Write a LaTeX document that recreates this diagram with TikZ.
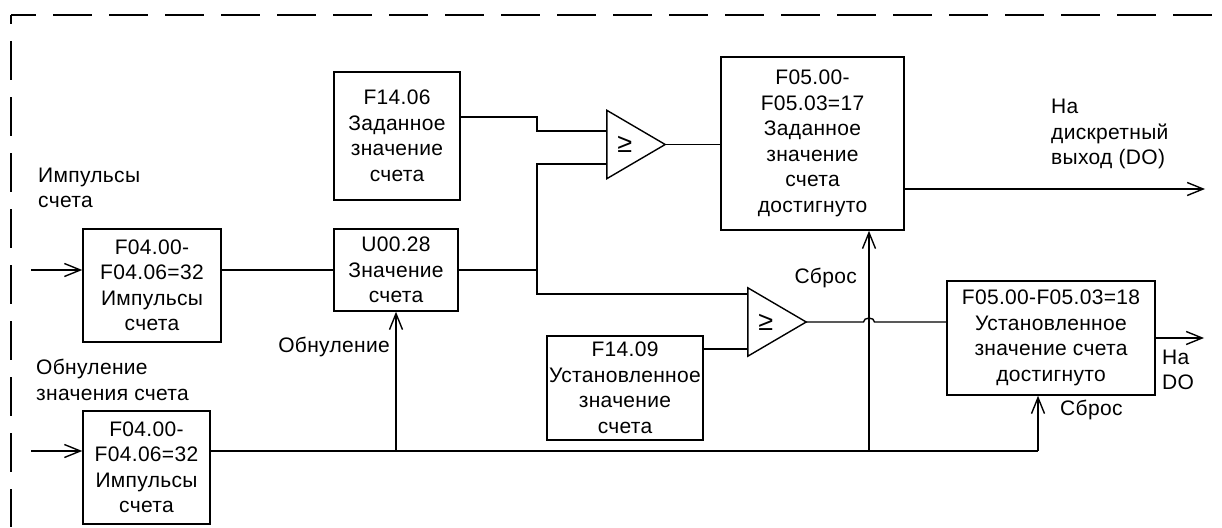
\documentclass[tikz,border=0pt]{standalone}
\usepackage{fontspec}
\setmainfont[LetterSpace=1.5]{Liberation Sans}
\newfontfamily\symfont{Liberation Sans}
\usetikzlibrary{arrows.meta}
\begin{document}
\begin{tikzpicture}[x=1pt,y=-1pt,
  every node/.style={font=\fontsize{21}{25.5}\selectfont, text=black},
  blk/.style={draw, line width=1.5pt, inner sep=0pt, align=center},
  cmpbox/.style={inner sep=0pt, minimum width=58pt, minimum height=68pt},
  wire/.style={line width=1.4pt},
  arr/.style={wire, -{Straight Barb[length=16pt,width=13pt,line width=1.4pt]}},
  frame/.style={line width=1.5pt, dash pattern=on 39pt off 17pt},
  lbl/.style={inner sep=0pt, align=left},
  gesym/.style={inner sep=0pt, font=\symfont\fontsize{27}{27}\selectfont}
]
\useasboundingbox (0,0) rectangle (1222,527);
% dashed frame
\draw[frame, dash phase=14pt] (11,15) -- (1222,15);
\draw[frame, dash phase=30pt] (11,15) -- (11,527);

% blocks
\node[blk, minimum width=138pt, minimum height=113pt] (F04a) at (152,285.5) {F04.00-\\F04.06=32\\Импульсы\\счета};
\node[blk, minimum width=124pt, minimum height=82pt] (U00) at (396,270) {U00.28\\Значение\\счета};
\node[blk, minimum width=126pt, minimum height=128pt] (F1406) at (397,136) {F14.06\\Заданное\\значение\\счета};
\node[blk, minimum width=183pt, minimum height=173pt] (F05) at (812.5,143.5) {F05.00-\\F05.03=17\\Заданное\\значение\\счета\\достигнуто};
\node[blk, minimum width=156pt, minimum height=104pt] (F1409) at (625,388) {F14.09\\Установленное\\значение\\счета};
\node[blk, minimum width=208pt, minimum height=114pt] (F18) at (1051,338) {F05.00-F05.03=18\\Установленное\\значение счета\\достигнуто};
\node[blk, minimum width=127pt, minimum height=113pt] (F04b) at (146.5,467.5) {F04.00-\\F04.06=32\\Импульсы\\счета};

% comparators
\node[cmpbox] (cmp1) at (636,144.5) {};
\node[cmpbox] (cmp2) at (777,322) {};
\draw[wire, line join=miter] (cmp1.north west) -- (cmp1.east) -- (cmp1.south west) -- cycle;
\draw[wire, line join=miter] (cmp2.north west) -- (cmp2.east) -- (cmp2.south west) -- cycle;
\node[gesym] (ge1) at ([xshift=18pt]cmp1.west) {≥};
\node[gesym] (ge2) at ([xshift=18pt]cmp2.west) {≥};

% coordinates
\coordinate (in1) at (31,270);
\coordinate (in2) at (31,451);
\coordinate (j1) at (537,270);
\coordinate (k1) at (537,117);
\coordinate (k2) at (537,131);
\coordinate (jr1) at (396,451);
\coordinate (jr2) at (869,451);
\coordinate (jr3) at (1038,451);
\coordinate (out1) at (1205,189);
\coordinate (out2) at (1204,338);

% connectors
\draw[arr] (in1) -- (in1 -| F04a.west);
\draw[wire] (in1 -| F04a.east) -- (in1 -| U00.west);
\draw[wire] (in1 -| U00.east) -- (j1);
\draw[wire] (F1406.east |- k1) -- (k1) -- (k2) -- (k2 -| cmp1.west);
\draw[wire] (j1) |- (cmp1.west |- 0,164);
\draw[wire] (j1) |- (cmp2.west |- 0,294);
\draw[wire] (F1409.east |- 0,349) -- (cmp2.west |- 0,349);
\draw[wire] (cmp1.east) -- (F05.west |- cmp1.east);
\draw[arr] (F05.east |- out1) -- (out1);
\draw[wire] (cmp2.east) -- (863.5,322) arc[start angle=180, end angle=360, x radius=5.5, y radius=4] -- (F18.west |- cmp2.east);
\draw[arr] (in2) -- (in2 -| F04b.west);
\draw[wire] (in2 -| F04b.east) -- (jr3);
\draw[arr] (jr3) -- (jr3 |- F18.south);
\draw[arr] (jr1) -- (jr1 |- U00.south);
\draw[arr] (jr2) -- (jr2 |- F05.south);
\draw[arr] (F18.east |- out2) -- (out2);

% labels
\node[lbl, anchor=west] (tImp) at (38,188) {Импульсы\\счета};
\node[lbl, anchor=west] (tObn) at (36,380) {Обнуление\\значения счета};
\node[lbl, anchor=east] (tObn2) at (390,347) {Обнуление};
\node[lbl, anchor=east] (tSbr1) at (857,278) {Сброс};
\node[lbl, anchor=west] (tSbr2) at (1060,410) {Сброс};
\node[lbl, anchor=west] (tDO1) at (1051,134) {На\\дискретный\\выход (DO)};
\node[lbl, anchor=west] (tDO2) at (1162,370) {На\\DO};
\end{tikzpicture}
\end{document}
